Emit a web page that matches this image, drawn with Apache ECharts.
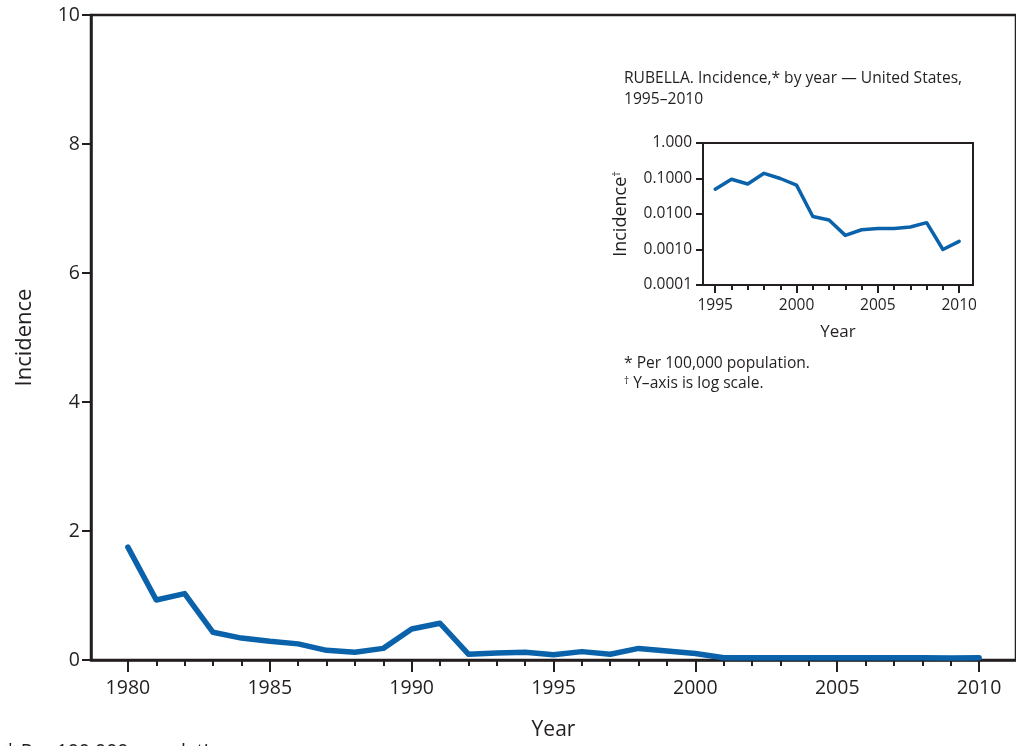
<!DOCTYPE html>
<html>
<head>
<meta charset="utf-8">
<script src="https://cdn.jsdelivr.net/npm/echarts@6/dist/echarts.min.js"></script>
<style>
html,body{margin:0;padding:0;background:#fff;}
#chart{width:1016px;height:746px;}
</style>
</head>
<body>
<div id="chart"></div>
<script>
// ---- Data ----
const mainYears = [1980,1981,1982,1983,1984,1985,1986,1987,1988,1989,1990,1991,1992,1993,1994,1995,1996,1997,1998,1999,2000,2001,2002,2003,2004,2005,2006,2007,2008,2009,2010];
const mainValues = [1.75,0.93,1.03,0.43,0.34,0.29,0.25,0.15,0.12,0.18,0.48,0.57,0.09,0.11,0.12,0.08,0.13,0.09,0.18,0.14,0.10,0.035,0.035,0.033,0.034,0.034,0.034,0.034,0.036,0.032,0.033];
const mainXLabels = [1980,1985,1990,1995,2000,2005,2010];
const mainYLabels = [0,2,4,6,8,10];

const insetYears = [1995,1996,1997,1998,1999,2000,2001,2002,2003,2004,2005,2006,2007,2008,2009,2010];
const insetValues = [0.05,0.095,0.07,0.14,0.10,0.065,0.0085,0.0068,0.0025,0.0036,0.0039,0.0039,0.0043,0.0057,0.0010,0.0017];
const insetXLabels = [1995,2000,2005,2010];
const insetYTickLabels = ['0.0001','0.0010','0.0100','0.1000','1.000'];

const insetTitle1 = 'RUBELLA. Incidence,* by year \u2014 United States,';
const insetTitle2 = '1995\u20132010';
const insetNote1 = '* Per 100,000 population.';
const insetNote2 = ' Y\u2013axis is log scale.';
const mainNote = '* Per 100,000 population.';

// ---- Style ----
const INK = '#231f20';
const BLUE = '#0a63aa';
const FONT = '"Open Sans", "Noto Sans", sans-serif';

const chart = echarts.init(document.getElementById('chart'), null, {renderer: 'canvas'});

const option = {
  backgroundColor: '#ffffff',
  animation: false,
  grid: [
    {left: 91, right: -3, top: 15, bottom: 85, show: true, borderColor: INK, borderWidth: 2.5, backgroundColor: 'transparent', containLabel: false},
    {left: 703, right: 43, top: 143, bottom: 461, show: true, borderColor: INK, borderWidth: 2, backgroundColor: '#ffffff', containLabel: false}
  ],
  xAxis: [
    {
      gridIndex: 0, type: 'value', position: 'bottom', min: 1978.7, max: 2011.3,
      name: 'Year', nameLocation: 'middle', nameGap: 60,
      nameTextStyle: {fontFamily: FONT, fontSize: 21, color: INK},
      axisLine: {show: true, lineStyle: {color: INK, width: 2.5}},
      axisTick: {show: true, customValues: mainYears, length: 6, lineStyle: {color: INK, width: 2}},
      axisLabel: {show: true, customValues: mainXLabels, margin: 18, fontFamily: FONT, fontSize: 19.5, color: INK,
        formatter: function (v) { return String(Math.round(v)); }},
      splitLine: {show: false}
    },
    {
      gridIndex: 0, type: 'value', position: 'bottom', min: 1978.7, max: 2011.3,
      axisLine: {show: false},
      axisTick: {show: true, customValues: mainXLabels, length: 12, lineStyle: {color: INK, width: 2}},
      axisLabel: {show: false},
      splitLine: {show: false}
    },
    {
      gridIndex: 1, type: 'value', position: 'bottom', min: 1994.25, max: 2010.85,
      name: 'Year', nameLocation: 'middle', nameGap: 39,
      nameTextStyle: {fontFamily: FONT, fontSize: 17, color: INK},
      axisLine: {show: true, lineStyle: {color: INK, width: 2}},
      axisTick: {show: true, customValues: insetYears, length: 5, lineStyle: {color: INK, width: 2}},
      axisLabel: {show: true, customValues: insetXLabels, margin: 13, fontFamily: FONT, fontSize: 15.5, color: INK,
        formatter: function (v) { return String(Math.round(v)); }},
      splitLine: {show: false}
    },
    {
      gridIndex: 1, type: 'value', position: 'bottom', min: 1994.25, max: 2010.85,
      axisLine: {show: false},
      axisTick: {show: true, customValues: insetXLabels, length: 8, lineStyle: {color: INK, width: 2}},
      axisLabel: {show: false},
      splitLine: {show: false}
    }
  ],
  yAxis: [
    {
      gridIndex: 0, type: 'value', min: 0, max: 10, interval: 2,
      name: 'Incidence', nameLocation: 'middle', nameGap: 55,
      nameTextStyle: {fontFamily: FONT, fontSize: 22, color: INK},
      axisLine: {show: true, lineStyle: {color: INK, width: 2.5}},
      axisTick: {show: true, length: 9, lineStyle: {color: INK, width: 2}},
      axisLabel: {show: true, margin: 11, fontFamily: FONT, fontSize: 19.5, color: INK,
        formatter: function (v) { return mainYLabels.indexOf(v) >= 0 ? String(v) : ''; }},
      splitLine: {show: false}
    },
    {
      gridIndex: 1, type: 'log', logBase: 10, min: 0.0001, max: 1, splitNumber: 4,
      name: '{a|Incidence}{b|\u2020}', nameLocation: 'middle', nameGap: 72,
      nameTextStyle: {fontFamily: FONT, fontSize: 18, color: INK,
        rich: {a: {fontFamily: FONT, fontSize: 18, color: INK}, b: {fontFamily: FONT, fontSize: 11, color: INK, verticalAlign: 'top', padding: [0,0,9,0]}}},
      axisLine: {show: true, lineStyle: {color: INK, width: 2}},
      axisTick: {show: true, length: 7, lineStyle: {color: INK, width: 2}},
      axisLabel: {show: true, margin: 11, fontFamily: FONT, fontSize: 15.5, color: INK,
        formatter: function (v) { const i = Math.round(Math.log10(v)) + 4; return insetYTickLabels[i] || ''; }},
      splitLine: {show: false}
    }
  ],
  series: [
    {
      type: 'line', xAxisIndex: 0, yAxisIndex: 0,
      data: mainYears.map((y, i) => [y, mainValues[i]]),
      showSymbol: false, symbol: 'none', clip: false,
      lineStyle: {color: BLUE, width: 5.5, cap: 'round', join: 'round'},
      z: 1
    },
    {
      type: 'line', xAxisIndex: 2, yAxisIndex: 1,
      data: insetYears.map((y, i) => [y, insetValues[i]]),
      showSymbol: false, symbol: 'none',
      lineStyle: {color: BLUE, width: 3.5, cap: 'round', join: 'round'},
      z: 5
    }
  ],
  graphic: [
    {type: 'text', left: 624, top: 71, style: {text: insetTitle1, font: '15.6px ' + FONT, fill: INK}},
    {type: 'text', left: 624, top: 92, style: {text: insetTitle2, font: '15.6px ' + FONT, fill: INK}},
    {type: 'text', left: 624, top: 356, style: {text: insetNote1, font: '15.6px ' + FONT, fill: INK}},
    {type: 'text', left: 624, top: 376, style: {
      text: '{s|\u2020}{t|' + insetNote2 + '}',
      rich: {s: {fontSize: 10, fontFamily: FONT, fill: INK, verticalAlign: 'top'}, t: {fontSize: 15.6, fontFamily: FONT, fill: INK}}
    }},
    {type: 'text', left: 5, top: 742, style: {text: mainNote, font: '19.5px ' + FONT, fill: INK}}
  ]
};

chart.setOption(option);
</script>
</body>
</html>
